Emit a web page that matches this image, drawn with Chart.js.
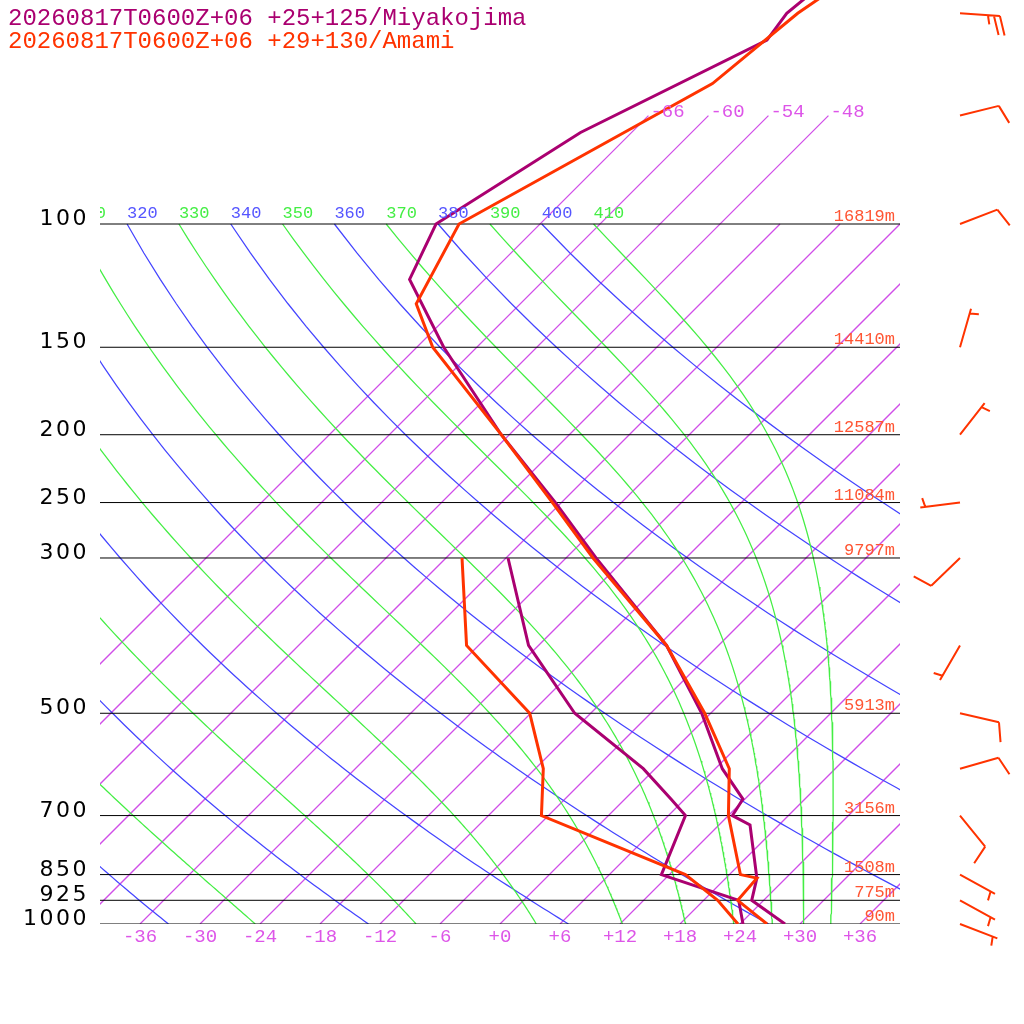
<!DOCTYPE html>
<html lang="en">
<head>
  <meta charset="UTF-8" />
  <title>Skew-T Miyakojima / Amami</title>
  <script src="https://cdn.jsdelivr.net/npm/chart.js"></script>
  <style>
    html, body { margin: 0; padding: 0; background: #ffffff; }
    #wrap { width: 1024px; height: 1024px; }
  </style>
</head>
<body>
  <div id="wrap"><canvas id="skewt" width="1024" height="1024"></canvas></div>
  <script>
    // Miyakojima (+25+125)
    const miyakoTempP = [1000, 925, 860, 850, 722, 700, 663, 600, 500, 400, 300, 250, 200, 150, 120, 100, 74, 54.6, 50, 40];
    const miyakoTemp  = [28.5, 22.8, 21.1, 20.7, 15.1, 12.4, 11.8, 6.7, -0.9, -11.2, -27.0, -36.6, -48.8, -63.3, -73.5, -76.4, -71.1, -61.7, -62.4, -60.9];
    const miyakoDewP  = [1000, 925, 850, 700, 663, 600, 500, 400, 300];
    const miyakoDew   = [24.3, 21.5, 11.2, 7.7, 4.6, -1.2, -13.6, -25.0, -35.8];

    // Amami (+29+130)
    const amamiTempP = [1000, 925, 860, 850, 700, 600, 500, 400, 300, 250, 200, 150, 130, 100, 63, 50, 40];
    const amamiTemp  = [26.7, 21.4, 21.1, 19.1, 12.0, 7.4, -0.6, -11.2, -27.3, -36.9, -48.8, -64.4, -70.4, -74.1, -62.8, -61.3, -58.2];
    const amamiDewP  = [1000, 925, 850, 700, 600, 500, 400, 300];
    const amamiDew   = [23.8, 19.4, 13.6, -6.7, -11.2, -18.1, -31.2, -40.4];

    // mandatory levels and geopotential heights (m)
    const levelP      = [100, 150, 200, 250, 300, 500, 700, 850, 925, 1000];
    const levelHeight = [16819, 14410, 12587, 11084, 9797, 5913, 3156, 1508, 775, 90];

    // wind barbs (direction deg, speed kt)
    const windP   = [1000, 925, 850, 700, 600, 500, 400, 300, 250, 200, 150, 100, 70, 50];
    const windDir = [111, 119, 119, 141, 74, 103, 210, 226, 263, 38, 16, 69, 76, 94];
    const windSpd = [5, 5, 5, 10, 10, 10, 5, 10, 5, 5, 5, 10, 10, 25];

    // background lines
    const xTicks      = [-36, -30, -24, -18, -12, -6, 0, 6, 12, 18, 24, 30, 36];
    const isotherms   = [-66, -60, -54, -48, -42, -36, -30, -24, -18, -12, -6, 0, 6, 12, 18, 24, 30, 36];
    const isoLabelled = [-66, -60, -54, -48];
    const dryThetas   = [240, 260, 280, 300, 320, 340, 360, 380, 400];
    const moistThetas = [250, 270, 290, 310, 330, 350, 370, 390, 410];

    const titles = ["20260817T0600Z+06 +25+125/Miyakojima", "20260817T0600Z+06 +29+130/Amami"];

    const MIYAKO = "#aa0070";
    const AMAMI = "#ff3300";
    const ISO_COLOR = "#d04ee8";
    const SKEW = 70;          // degC of x shift per decade of pressure (45 deg isotherms)
    const P_TOP = 1000 * Math.pow(10, -924 / 700);
    const ISO_TOP = 70;

    const RD = 287.04, CP = 1005.7, LV = 2.501e6, EPS = 0.622, KAPPA = RD / CP;

    const skewX = (t, p) => t + SKEW * Math.log10(1000 / p);
    const profile = (ps, ts) => ps.map((p, i) => ({ x: skewX(ts[i], p), y: p }));

    function dryAdiabat(theta) {
      const pts = [];
      for (let p = 1000; p >= 100; p -= 10) {
        pts.push({ x: skewX(theta * Math.pow(p / 1000, KAPPA) - 273.15, p), y: p });
      }
      return pts;
    }

    function moistLapse(T, p) {
      const tc = T - 273.15;
      const es = 6.112 * Math.exp(17.67 * tc / (tc + 243.5));
      const rs = EPS * es / (p - es);
      return (RD * T + LV * rs) / (p * (CP + LV * LV * rs * EPS / (RD * T * T)));
    }

    function moistAdiabat(theta) {
      let T = theta * Math.pow(0.1, KAPPA);
      const pts = [];
      const h = 5;
      for (let p = 100; p <= 1000; p += h) {
        pts.push({ x: skewX(T - 273.15, p), y: p });
        const k1 = moistLapse(T, p);
        const k2 = moistLapse(T + h * k1 / 2, p + h / 2);
        const k3 = moistLapse(T + h * k2 / 2, p + h / 2);
        const k4 = moistLapse(T + h * k3, p + h);
        T += h * (k1 + 2 * k2 + 2 * k3 + k4) / 6;
      }
      return pts;
    }

    const line = (data, color, width, order) => ({
      data, borderColor: color, backgroundColor: color, borderWidth: width, order,
      showLine: true, pointRadius: 0, fill: false, tension: 0
    });

    const datasets = [
      line(profile(amamiTempP, amamiTemp), AMAMI, 3, 0),
      line(profile(amamiDewP, amamiDew), AMAMI, 3, 1),
      line(profile(miyakoTempP, miyakoTemp), MIYAKO, 3, 2),
      line(profile(miyakoDewP, miyakoDew), MIYAKO, 3, 3)
    ];
    levelP.forEach(p => datasets.push(line([{ x: -40, y: p }, { x: 40, y: p }], "#000000", 1, 5)));
    moistThetas.forEach(th => datasets.push(line(moistAdiabat(th), "#44ee44", 1.25, 8)));
    dryThetas.forEach(th => datasets.push(line(dryAdiabat(th), "#4444ff", 1.25, 9)));
    // 1px hairlines at exactly 45 deg come out grey here, so a touch wider
    isotherms.forEach(t => {
      const top = isoLabelled.includes(t) ? ISO_TOP : 100;
      datasets.push(line([{ x: skewX(t, 1000), y: 1000 }, { x: skewX(t, top), y: top }], ISO_COLOR, 1.25, 10));
    });

    const fmtT = t => (t < 0 ? "-" : "+") + Math.abs(t);

    function drawBarb(ctx, x0, y0, dir, spd) {
      const a = dir * Math.PI / 180;
      const u = [Math.sin(a), -Math.cos(a)];
      const n = [-u[1], u[0]];
      const L = 40;
      const tip = [x0 + u[0] * L, y0 + u[1] * L];
      ctx.beginPath();
      ctx.moveTo(x0, y0);
      ctx.lineTo(tip[0], tip[1]);
      let left = spd, pos = 0;
      const full = Math.floor(left / 10);
      for (let i = 0; i < full; i++) {
        const bx = tip[0] - u[0] * pos, by = tip[1] - u[1] * pos;
        ctx.moveTo(bx, by);
        ctx.lineTo(bx + u[0] * 6 + n[0] * 19, by + u[1] * 6 + n[1] * 19);
        pos += 6;
      }
      left -= full * 10;
      if (left >= 5) {
        if (pos === 0) pos = 5;
        const bx = tip[0] - u[0] * pos, by = tip[1] - u[1] * pos;
        ctx.moveTo(bx, by);
        ctx.lineTo(bx + u[0] * 2 + n[0] * 9, by + u[1] * 2 + n[1] * 9);
      }
      ctx.stroke();
    }

    const skewDecor = {
      id: "skewDecor",
      afterDatasetsDraw(chart) {
        const { ctx, chartArea: area, scales: { x, y } } = chart;
        ctx.save();
        ctx.textBaseline = "alphabetic";

        // titles
        ctx.font = '24px "Liberation Mono"';
        ctx.textAlign = "left";
        ctx.fillStyle = MIYAKO;
        ctx.fillText(titles[0], 8, 25);
        ctx.fillStyle = AMAMI;
        ctx.fillText(titles[1], 8, 48);

        // isotherm labels at their top ends
        ctx.font = '19px "Liberation Mono"';
        ctx.fillStyle = "#dd55e8";
        isoLabelled.forEach(t => {
          const px = x.getPixelForValue(skewX(t, ISO_TOP));
          const py = y.getPixelForValue(ISO_TOP);
          ctx.fillText(fmtT(t), px + 2, py + 1);
        });

        // bottom temperature ticks
        ctx.textAlign = "center";
        xTicks.forEach(t => ctx.fillText(fmtT(t), x.getPixelForValue(t), area.bottom + 18));

        // theta labels along 100 hPa
        const y100 = y.getPixelForValue(100);
        ctx.save();
        ctx.beginPath();
        ctx.rect(area.left, area.top, area.right - area.left, area.bottom - area.top);
        ctx.clip();
        ctx.font = '17px "Liberation Mono"';
        ctx.textAlign = "left";
        dryThetas.forEach(th => {
          ctx.fillStyle = "#5555ff";
          ctx.fillText(String(th), x.getPixelForValue(skewX(th * Math.pow(0.1, KAPPA) - 273.15, 100)), y100 - 6);
        });
        moistThetas.forEach(th => {
          ctx.fillStyle = "#44ee44";
          ctx.fillText(String(th), x.getPixelForValue(skewX(th * Math.pow(0.1, KAPPA) - 273.15, 100)), y100 - 6);
        });
        ctx.restore();

        // pressure labels and heights
        levelP.forEach((p, i) => {
          const py = y.getPixelForValue(p);
          ctx.font = '22px "DejaVu Sans"';
          ctx.letterSpacing = "2.5px";
          ctx.textAlign = "right";
          ctx.fillStyle = "#000000";
          ctx.fillText(String(p), area.left - 11, py + 1);
          ctx.letterSpacing = "0px";
          ctx.font = '17px "Liberation Mono"';
          ctx.fillStyle = "#ff5533";
          ctx.fillText(levelHeight[i] + "m", area.right - 5, py - 3);
        });

        // wind barbs
        ctx.strokeStyle = AMAMI;
        ctx.lineWidth = 2;
        windP.forEach((p, i) => drawBarb(ctx, area.right + 60, y.getPixelForValue(p), windDir[i], windSpd[i]));

        ctx.restore();
      }
    };

    new Chart(document.getElementById("skewt"), {
      type: "scatter",
      data: { datasets },
      options: {
        responsive: false,
        animation: false,
        devicePixelRatio: 1,
        events: [],
        layout: { padding: { left: 100, right: 124, top: 0, bottom: 100 } },
        scales: {
          x: { type: "linear", min: -40, max: 40, bounds: "data", display: false },
          y: { type: "logarithmic", reverse: true, min: P_TOP, max: 1000, bounds: "data", display: false }
        },
        plugins: { legend: { display: false }, tooltip: { enabled: false } }
      },
      plugins: [skewDecor]
    });
  </script>
</body>
</html>
